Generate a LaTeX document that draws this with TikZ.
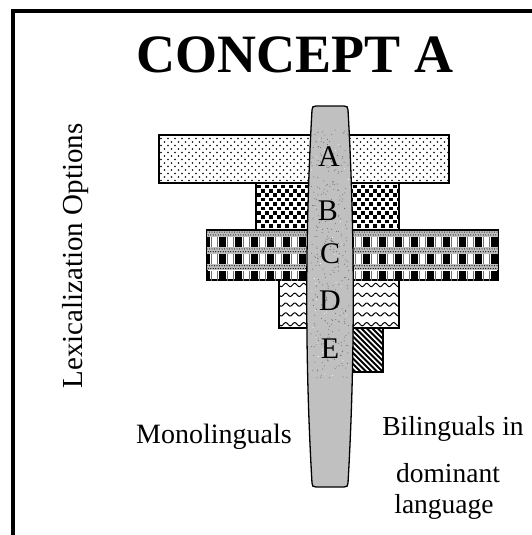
\documentclass[tikz,border=0pt]{standalone}
\usepackage{fontspec}
\setmainfont{Liberation Serif}

\tikzset{
  bar/.style={draw, line width=1.3pt, inner sep=0pt, outer sep=0pt},
  lbl/.style={inner sep=0pt, anchor=base},
  letter/.style={inner sep=0pt, font=\fontsize{30}{32}\selectfont},
  colfill/.style={fill={rgb,255:red,192;green,192;blue,192}, draw, line width=1.3pt},
  speck/.style={fill=black!60},
}

\begin{document}
\begin{tikzpicture}[x=1pt,y=-1pt]
\useasboundingbox (0,0) rectangle (532,535);

% bars (outlines drawn as nodes, textures clipped inside)
\node[bar, minimum width=290pt, minimum height=48pt] (barA) at (304,159) {};
\node[bar, minimum width=143pt, minimum height=47pt] (barB) at (327.5,206.5) {};
\node[bar, minimum width=291pt, minimum height=50pt] (barC) at (352.5,255) {};
\node[bar, minimum width=120pt, minimum height=48pt] (barD) at (339,304) {};
\node[bar, minimum width=75pt, minimum height=44pt] (barE) at (345.5,350) {};

% A: sparse staggered dots
\begin{scope}
\clip (barA.north west) rectangle (barA.south east);
\foreach \r in {0,...,13}{
  \foreach \c in {0,...,42}{
    \fill ({161+\c*7+mod(\r,2)*3.5},{138.5+\r*3.5}) circle[radius=0.9pt];
  }
}
\end{scope}

% B: staggered squares
\begin{scope}
\clip (barB.north west) rectangle (barB.south east);
\foreach \r in {0,...,10}{
  \foreach \c in {0,...,18}{
    \fill ({257+\c*8+mod(\r,2)*4},{184.5+\r*4.4}) rectangle ++(3.8,3.6);
  }
}
\end{scope}

% C: dotted bands and checker rows
\begin{scope}
\clip (barC.north west) rectangle (barC.south east);
\foreach \k in {0,1,2}{
  \pgfmathsetmacro\yz{230.5+\k*16.8}
  \fill[black!25] (207,\yz) rectangle (498,\yz+6.2);
  \foreach \c in {0,...,116}{
    \fill ({207+\c*2.5},{\yz+1.6}) circle[radius=0.6pt];
    \fill ({208.25+\c*2.5},{\yz+4.4}) circle[radius=0.6pt];
  }
  \foreach \c in {-1,...,18}{
    \fill ({219+\c*16},{\yz+6.8}) rectangle ++(7,9.6);
    \draw[black!55, line width=0.6pt] ({227.5+\c*16},{\yz+6.8}) -- ++(0,9.6);
    \draw[black!55, line width=0.6pt] ({233.5+\c*16},{\yz+6.8}) -- ++(0,9.6);
  }
}
\end{scope}

% D: wavy lines
\begin{scope}
\clip (barD.north west) rectangle (barD.south east);
\foreach \r in {0,...,4}{
  \draw[line width=1pt] plot[domain=0:120, samples=241] ({279+\x},{285+\r*9.8+1.6*sin(40*\x)});
}
\end{scope}

% E: diagonal hatching
\begin{scope}
\clip (barE.north west) rectangle (barE.south east);
\foreach \c in {0,...,24}{
  \draw[line width=1.8pt] ({262+\c*5.5},328) -- ++(46,46);
}
\end{scope}

% column
\draw[colfill] (316,106) -- (344,106) .. controls (347,106) and (348,107) .. (348,110)
  .. controls (355,233) and (355,363) .. (348,483)
  .. controls (348,486) and (347,487) .. (344,487) -- (316,487)
  .. controls (313,487) and (312,486) .. (312,483)
  .. controls (305,363) and (305,233) .. (312,110)
  .. controls (312,107) and (313,106) .. (316,106) -- cycle;
\pgfmathsetseed{7}
\foreach \i in {1,...,320}{
  \fill[speck] ({311+38*rnd},{130+248*rnd}) circle[radius=0.5pt];
}
\foreach \i in {1,...,40}{
  \fill[white] ({311+38*rnd},{130+248*rnd}) circle[radius=0.5pt];
}

% letters
\node[letter] (lA) at (329,157) {A};
\node[letter] (lB) at (328,211) {B};
\node[letter] (lC) at (330,254) {C};
\node[letter] (lD) at (330,301) {D};
\node[letter] (lE) at (330,349) {E};

% frame
\draw[line width=4.5pt] (532,11) -- (13,11) -- (13,535);

% texts
\node[lbl, font=\bfseries\fontsize{54}{60}\selectfont] (title) at (295,73) {CONCEPT A};
\node[lbl, rotate=90, font=\fontsize{29}{32}\selectfont] (lex) at (82,256) {Lexicalization Options};
\node[lbl, font=\fontsize{28}{32}\selectfont] (mono) at (214,443) {Monolinguals};
\node[lbl, font=\fontsize{27.5}{32}\selectfont] (bil1) at (453,435) {Bilinguals in};
\node[lbl, font=\fontsize{27.5}{32}\selectfont] (bil2) at (448,482) {dominant};
\node[lbl, font=\fontsize{27.5}{32}\selectfont] (bil3) at (444,513) {language};
\end{tikzpicture}
\end{document}
